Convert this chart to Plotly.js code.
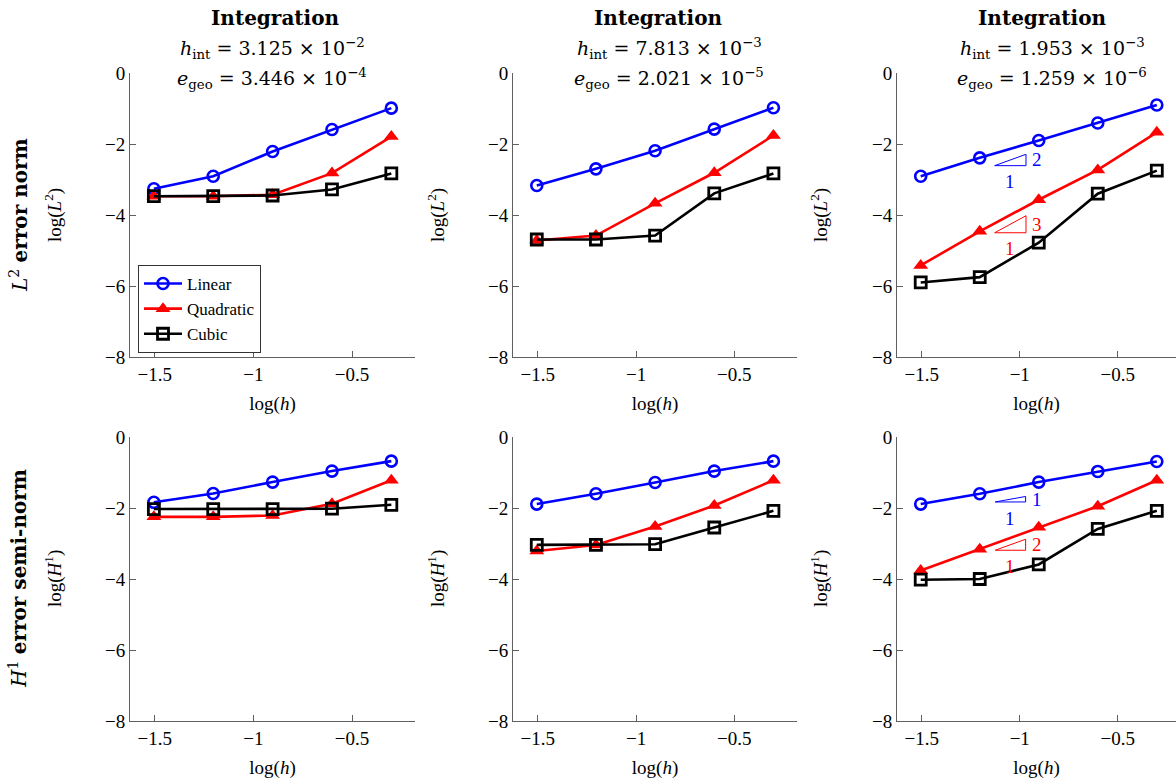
<!DOCTYPE html>
<html><head><meta charset="utf-8">
<script src="https://cdn.plot.ly/plotly-3.0.1.min.js"></script>
<style>html,body{margin:0;padding:0;background:#fff;overflow:hidden}#chart{width:1176px;height:779px}</style>
</head><body><div id="chart"></div>
<script>
// ---- data ----
const logH = [-1.505, -1.204, -0.903, -0.602, -0.301];
const seriesNames = ['Linear', 'Quadratic', 'Cubic'];

const l2Col1Linear = [-3.26, -2.91, -2.21, -1.59, -0.99];
const l2Col1Quadratic = [-3.47, -3.47, -3.43, -2.82, -1.79];
const l2Col1Cubic = [-3.47, -3.47, -3.45, -3.28, -2.83];
const l2Col2Linear = [-3.17, -2.70, -2.19, -1.58, -0.98];
const l2Col2Quadratic = [-4.72, -4.58, -3.67, -2.81, -1.76];
const l2Col2Cubic = [-4.69, -4.69, -4.58, -3.39, -2.83];
const l2Col3Linear = [-2.91, -2.39, -1.90, -1.41, -0.90];
const l2Col3Quadratic = [-5.42, -4.46, -3.57, -2.73, -1.67];
const l2Col3Cubic = [-5.90, -5.75, -4.78, -3.40, -2.75];

const h1Col1Linear = [-1.84, -1.59, -1.27, -0.96, -0.68];
const h1Col1Quadratic = [-2.25, -2.25, -2.21, -1.88, -1.22];
const h1Col1Cubic = [-2.03, -2.03, -2.03, -2.02, -1.91];
const h1Col2Linear = [-1.89, -1.60, -1.28, -0.96, -0.68];
const h1Col2Quadratic = [-3.21, -3.04, -2.52, -1.93, -1.22];
const h1Col2Cubic = [-3.04, -3.04, -3.02, -2.55, -2.08];
const h1Col3Linear = [-1.89, -1.60, -1.27, -0.97, -0.69];
const h1Col3Quadratic = [-3.76, -3.16, -2.54, -1.95, -1.22];
const h1Col3Cubic = [-4.02, -4.00, -3.59, -2.59, -2.08];

const colTitles = ['Integration', 'Integration', 'Integration'];
const hIntTexts = ['3.125 × 10<sup>−2</sup>', '7.813 × 10<sup>−3</sup>', '1.953 × 10<sup>−3</sup>'];
const eGeoTexts = ['3.446 × 10<sup>−4</sup>', '2.021 × 10<sup>−5</sup>', '1.259 × 10<sup>−6</sup>'];
const rowLabels = ['<i>L</i><sup>2</sup> <b>error norm</b>', '<i>H</i><sup>1</sup> <b>error semi-norm</b>'];
const yTitles = ['log(<i>L</i><sup>2</sup>)', 'log(<i>H</i><sup>1</sup>)'];
const xTitle = 'log(<i>h</i>)';
const xTickVals = [-1.5, -1, -0.5];
const yTickVals = [-8, -6, -4, -2, 0];

// slope triangles
const slopeTriRow = [1, 1, 2, 2];
const slopeTriX0 = [-1.128, -1.128, -1.125, -1.125];
const slopeTriY0 = [-2.61, -4.50, -1.83, -3.19];
const slopeTriRun = [0.16, 0.16, 0.155, 0.155];
const slopeTriSlope = [2, 3, 1, 2];
const slopeTriColor = ['#0000ff', '#ff0000', '#0000ff', '#ff0000'];

// ---- layout geometry ----
const W = 1176, H = 779;
const colPx = [[130, 415], [513, 797], [897, 1176]];
const rowPx = [[73, 357], [437, 721]];
const xRanges = [[-1.626, -0.181], [-1.626, -0.181], [-1.626, -0.203]];
const titleCenters = [275, 658, 1042];
const lineCenters = [272, 669, 1052];
const yTitleCenters = [53, 436, 819];

const seriesData = [
  [[l2Col1Linear, l2Col1Quadratic, l2Col1Cubic], [l2Col2Linear, l2Col2Quadratic, l2Col2Cubic], [l2Col3Linear, l2Col3Quadratic, l2Col3Cubic]],
  [[h1Col1Linear, h1Col1Quadratic, h1Col1Cubic], [h1Col2Linear, h1Col2Quadratic, h1Col2Cubic], [h1Col3Linear, h1Col3Quadratic, h1Col3Cubic]]
];
const styles = [
  {color: '#0000ff', symbol: 'circle-open', size: 11, mlw: 2.6},
  {color: '#ff0000', symbol: 'triangle-up', size: 13, mlw: 0},
  {color: '#000000', symbol: 'square-open', size: 11, mlw: 2.8}
];

const serif = '"Liberation Serif", serif';
const dserif = '"DejaVu Serif", serif';
const axisColor = '#606060';

const traces = [];
const layout = {
  width: W, height: H,
  margin: {l: 0, r: 0, t: 0, b: 0},
  paper_bgcolor: '#fff', plot_bgcolor: '#fff',
  font: {family: serif, size: 19, color: '#000'},
  showlegend: true,
  legend: {
    x: 138 / W, y: 1 - 265 / H, xanchor: 'left', yanchor: 'top',
    bordercolor: '#333', borderwidth: 1, bgcolor: '#fff',
    font: {family: serif, size: 17}, tracegroupgap: 0, itemwidth: 38
  },
  annotations: [],
  shapes: []
};

for (let r = 0; r < 2; r++) {
  for (let c = 0; c < 3; c++) {
    const idx = r * 3 + c + 1;
    const xa = idx === 1 ? 'x' : 'x' + idx;
    const ya = idx === 1 ? 'y' : 'y' + idx;
    for (let s = 0; s < 3; s++) {
      const st = styles[s];
      traces.push({
        type: 'scatter', mode: 'lines+markers',
        x: logH, y: seriesData[r][c][s],
        xaxis: xa, yaxis: ya,
        name: seriesNames[s],
        legendgroup: seriesNames[s],
        showlegend: idx === 1,
        line: {color: st.color, width: 2.6},
        marker: {symbol: st.symbol, size: st.size, color: st.color, line: {color: st.color, width: st.mlw}},
        cliponaxis: false
      });
    }
    const xKey = idx === 1 ? 'xaxis' : 'xaxis' + idx;
    const yKey = idx === 1 ? 'yaxis' : 'yaxis' + idx;
    layout[xKey] = {
      domain: [colPx[c][0] / W, colPx[c][1] / W],
      anchor: ya, range: xRanges[c],
      tickmode: 'array', tickvals: xTickVals,
      ticks: 'inside', ticklen: 6, tickcolor: axisColor,
      showline: true, linecolor: axisColor, linewidth: 1,
      showgrid: false, zeroline: false,
      tickfont: {family: serif, size: 19},
      title: {text: xTitle, font: {family: serif, size: 19}, standoff: 12}
    };
    layout[yKey] = {
      domain: [1 - rowPx[r][1] / H, 1 - rowPx[r][0] / H],
      anchor: xa, range: [-8, 0],
      tickmode: 'array', tickvals: yTickVals,
      ticks: 'inside', ticklen: 6, tickcolor: axisColor,
      showline: true, linecolor: axisColor, linewidth: 1,
      showgrid: false, zeroline: false,
      tickfont: {family: serif, size: 19}
    };
    // y-axis title (placed as annotation for exact position)
    layout.annotations.push({
      xref: 'paper', yref: 'paper', x: yTitleCenters[c] / W, y: 1 - ((rowPx[r][0] + rowPx[r][1]) / 2) / H,
      xanchor: 'center', yanchor: 'middle', showarrow: false, textangle: -90,
      text: yTitles[r], font: {family: serif, size: 19}
    });
  }
}

// column titles
for (let c = 0; c < 3; c++) {
  layout.annotations.push({
    xref: 'paper', yref: 'paper', x: titleCenters[c] / W, y: 1 - 18 / H,
    xanchor: 'center', yanchor: 'middle', showarrow: false,
    text: '<b>' + colTitles[c] + '</b>', font: {family: dserif, size: 20}
  });
  layout.annotations.push({
    xref: 'paper', yref: 'paper', x: lineCenters[c] / W, y: 1 - 48 / H,
    xanchor: 'center', yanchor: 'middle', showarrow: false,
    text: '<i>h</i><sub>int</sub> = ' + hIntTexts[c], font: {family: dserif, size: 19}
  });
  layout.annotations.push({
    xref: 'paper', yref: 'paper', x: lineCenters[c] / W, y: 1 - 78 / H,
    xanchor: 'center', yanchor: 'middle', showarrow: false,
    text: '<i>e</i><sub>geo</sub> = ' + eGeoTexts[c], font: {family: dserif, size: 19}
  });
}
// row labels
const rowLabelX = [19, 18];
for (let r = 0; r < 2; r++) {
  layout.annotations.push({
    xref: 'paper', yref: 'paper', x: rowLabelX[r] / W, y: 1 - ((rowPx[r][0] + rowPx[r][1]) / 2) / H,
    xanchor: 'center', yanchor: 'middle', showarrow: false, textangle: -90,
    text: rowLabels[r], font: {family: dserif, size: 20}
  });
}
// slope triangles
for (let i = 0; i < slopeTriX0.length; i++) {
  const idx = slopeTriRow[i] === 1 ? 3 : 6;
  const xa = 'x' + idx, ya = 'y' + idx;
  const x0 = slopeTriX0[i], y0 = slopeTriY0[i];
  const x1 = x0 + slopeTriRun[i];
  const y1 = y0 + slopeTriRun[i] * slopeTriSlope[i];
  layout.shapes.push({
    type: 'path', xref: xa, yref: ya,
    path: `M ${x0},${y0} L ${x1},${y0} L ${x1},${y1} Z`,
    line: {color: slopeTriColor[i], width: 1}
  });
  layout.annotations.push({
    xref: xa, yref: ya, x: x1 + 0.02, y: (y0 + y1) / 2,
    xanchor: 'left', yanchor: 'middle', showarrow: false,
    text: String(slopeTriSlope[i]), font: {family: serif, size: 19, color: slopeTriColor[i]}
  });
  layout.annotations.push({
    xref: xa, yref: ya, x: (x0 + x1) / 2, y: y0 - 0.1,
    xanchor: 'center', yanchor: 'top', showarrow: false,
    text: '1', font: {family: serif, size: 19, color: slopeTriColor[i]}
  });
}

Plotly.newPlot('chart', traces, layout, {staticPlot: true, displayModeBar: false});
</script>
</body></html>
